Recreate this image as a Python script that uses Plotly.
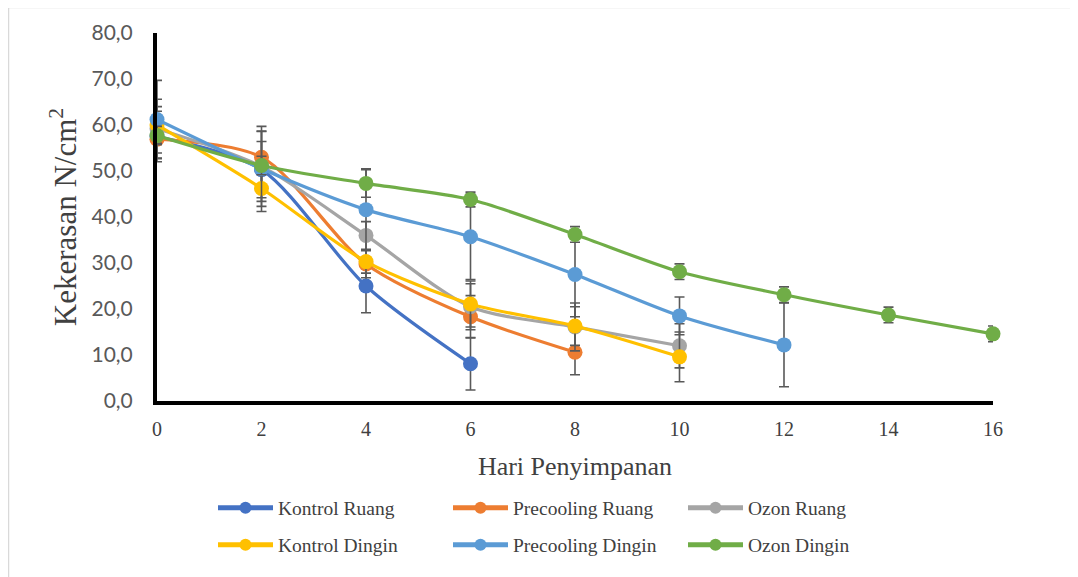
import plotly.graph_objects as go

days = [0, 2, 4, 6, 8, 10, 12, 14, 16]

series_names = ["Kontrol Ruang", "Precooling Ruang", "Ozon Ruang",
                "Kontrol Dingin", "Precooling Dingin", "Ozon Dingin"]

kontrol_ruang = [57.5, 50.3, 25.0, 8.1]
precooling_ruang = [56.9, 53.0, 29.8, 18.3, 10.6]
ozon_ruang = [59.2, 51.0, 36.0, 20.5, 16.1, 12.0]
kontrol_dingin = [60.0, 46.2, 30.3, 21.1, 16.3, 9.6]
precooling_dingin = [61.2, 50.5, 41.6, 35.7, 27.5, 18.5, 12.2]
ozon_dingin = [57.7, 51.2, 47.3, 43.8, 36.2, 28.1, 23.1, 18.7, 14.6]

kontrol_ruang_err = [5.5, 6.1, 5.8, 5.7]
precooling_ruang_err = [3.0, 6.7, 3.0, 4.6, 4.9]
ozon_ruang_err = [6.4, 7.6, 3.0, 5.0, 5.2, 4.8]
kontrol_dingin_err = [4.0, 5.0, 2.5, 5.0, 4.2, 5.4]
precooling_dingin_err = [8.5, 8.2, 8.9, 9.3, 9.2, 4.1, 9.1]
ozon_dingin_err = [2.0, 2.0, 3.0, 1.6, 1.7, 1.7, 1.7, 1.7, 1.7]

values = [kontrol_ruang, precooling_ruang, ozon_ruang,
          kontrol_dingin, precooling_dingin, ozon_dingin]
errors = [kontrol_ruang_err, precooling_ruang_err, ozon_ruang_err,
          kontrol_dingin_err, precooling_dingin_err, ozon_dingin_err]
colors = ["#4472C4", "#ED7D31", "#A5A5A5", "#FFC000", "#5B9BD5", "#70AD47"]

fig = go.Figure()
for i, (name, vals, errs, col) in enumerate(zip(series_names, values, errors, colors)):
    fig.add_trace(go.Scatter(
        x=days[:len(vals)], y=vals, name=name, mode="lines+markers",
        line=dict(color=col, width=3.2, shape="spline", smoothing=0.8),
        marker=dict(color=col, size=15),
        error_y=dict(type="data", array=errs, visible=True,
                     color="#595959", thickness=1.6, width=5),
        cliponaxis=False,
        legend="legend" if i < 3 else "legend2",
    ))

serif = "Times New Roman, Liberation Serif, serif"

# page body has an 8px offset; coordinates below are in screen pixels
OFF = 8
W, H = 1078 - OFF, 577 - OFF
L, T = 157 - OFF, 33 - OFF
PW, PH = 836, 368
R = W - L - PW
B = H - T - PH

def px_x(p):
    return (p - OFF - L) / PW

def px_y(p):
    return (T + PH - (p - OFF)) / PH

legend_common = dict(orientation="h", x=px_x(213), xanchor="left", yanchor="middle",
                     font=dict(family=serif, size=19.5, color="#404040"),
                     entrywidth=165, entrywidthmode="pixels", itemwidth=55,
                     itemsizing="constant",
                     bgcolor="rgba(0,0,0,0)")

fig.update_layout(
    width=W, height=H,
    margin=dict(l=L, r=R, t=T, b=B),
    plot_bgcolor="white", paper_bgcolor="white",
    separators=",.",
    showlegend=True,
    xaxis=dict(
        range=[0, 16], tickvals=days, showgrid=False, zeroline=False,
        showline=True, linecolor="black", linewidth=4, automargin=False,
        ticks="", tickfont=dict(family=serif, size=20, color="#404040"),
        ticklabelstandoff=7,
        title=dict(text="Hari Penyimpanan", font=dict(family=serif, size=26, color="#404040"),
                   standoff=19),
    ),
    yaxis=dict(
        range=[0, 80], dtick=10, tickformat=".1f", showgrid=False, zeroline=False,
        showline=True, linecolor="black", linewidth=4, automargin=False,
        ticks="", tickfont=dict(family="Lato, Open Sans, sans-serif", size=21, color="#595959"),
        ticklabelstandoff=16,
        title=dict(text="Kekerasan N/cm<sup>2</sup>", font=dict(family=serif, size=31, color="#404040"),
                   standoff=7),
    ),
    legend=dict(legend_common, y=px_y(508)),
    legend2=dict(legend_common, y=px_y(545)),
    shapes=[dict(type="rect", xref="paper", yref="paper",
                 x0=px_x(8.5), x1=px_x(1076),
                 y0=px_y(590), y1=px_y(7.5),
                 line=dict(color="#D9D9D9", width=1.5), layer="below")],
)

fig.write_html("out.html")
